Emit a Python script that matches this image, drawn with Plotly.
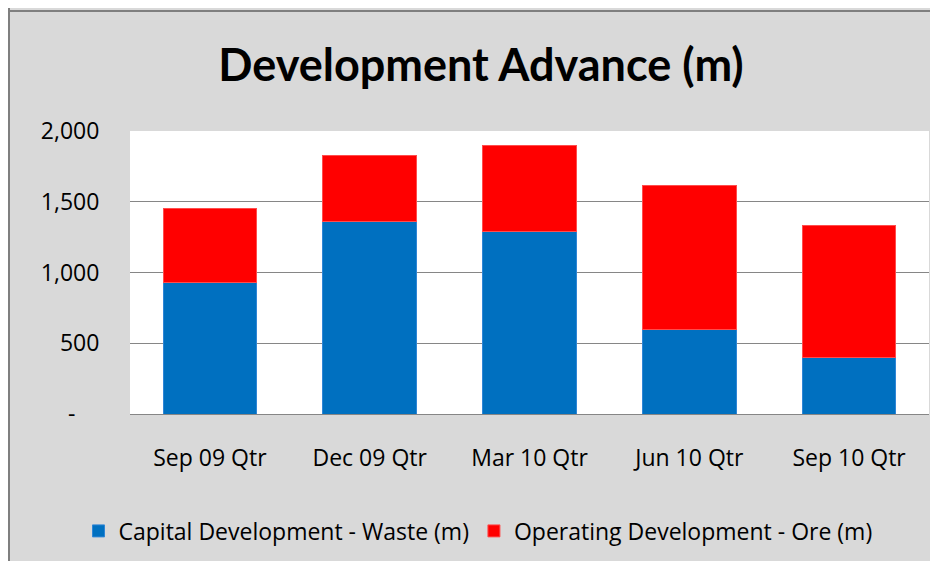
import plotly.graph_objects as go

categories = ["Sep 09 Qtr", "Dec 09 Qtr", "Mar 10 Qtr", "Jun 10 Qtr", "Sep 10 Qtr"]
capital_waste = [930, 1363, 1290, 595, 399]
operating_ore = [520, 462, 605, 1020, 933]
y_tickvals = [0, 500, 1000, 1500, 2000]
y_ticktext = ["-\u00a0\u00a0\u00a0\u00a0", "500", "1,000", "1,500", "2,000"]

OFF = 8  # page body margin
W, H = 938 - OFF, 561 - OFF
L, R, T, B = 122, 9, 123, 142
pw, ph = W - L - R, H - T - B

def px_x(x):  # x in target-window pixels
    return (x - OFF - L) / pw

def px_y(y):
    return (H - B - (y - OFF)) / ph

fig = go.Figure()
fig.add_trace(go.Bar(
    x=categories, y=capital_waste, name="Capital Development - Waste (m)",
    marker=dict(color="#0070C0", line=dict(color="#2f86d6", width=1)),
))
fig.add_trace(go.Bar(
    x=categories, y=operating_ore, name="Operating Development - Ore (m)",
    marker=dict(color="#FF0000", line=dict(color="#ff4d4d", width=1)),
))

tfont = "Lato, 'Open Sans', sans-serif"
font = "'Open Sans', sans-serif"
FS = 23

fig.update_layout(
    width=W, height=H,
    barmode="stack", bargap=0.414,
    paper_bgcolor="#d9d9d9", plot_bgcolor="white",
    margin=dict(l=L, r=R, t=T, b=B, pad=0),
    font=dict(family=font, size=FS, color="#000000"),
    title=dict(text="<b>Development Advance (m)</b>", x=(481 - OFF) / W, xref="container",
               xanchor="center", y=1 - (65 - OFF) / H, yref="container", yanchor="middle",
               font=dict(family=tfont, size=45, color="#000000")),
    legend=dict(orientation="h", x=px_x(478), xanchor="center", y=px_y(538), yanchor="middle",
                font=dict(family=font, size=FS, color="#000000"), bgcolor="rgba(0,0,0,0)",
                traceorder="normal"),
    showlegend=True,
    shapes=[
        dict(type="line", xref="paper", yref="paper", x0=px_x(0), x1=px_x(940),
             y0=px_y(OFF + 1), y1=px_y(OFF + 1), line=dict(color="#7f7f7f", width=2)),
        dict(type="line", xref="paper", yref="paper", x0=px_x(OFF + 1), x1=px_x(OFF + 1),
             y0=px_y(0), y1=px_y(570), line=dict(color="#7f7f7f", width=2)),
    ],
)
fig.update_xaxes(showline=True, linecolor="#868686", linewidth=1, showgrid=False,
                 ticks="outside", ticklen=23, tickcolor="rgba(0,0,0,0)",
                 tickfont=dict(family=font, size=FS, color="#000000"))
fig.update_yaxes(range=[0, 2000], tickvals=y_tickvals, ticktext=y_ticktext,
                 showgrid=True, gridcolor="#868686", gridwidth=1, zeroline=False,
                 showline=False, ticks="outside", ticklen=25, tickcolor="rgba(0,0,0,0)",
                 tickfont=dict(family=font, size=FS, color="#000000"))

fig.write_html("out.html")
